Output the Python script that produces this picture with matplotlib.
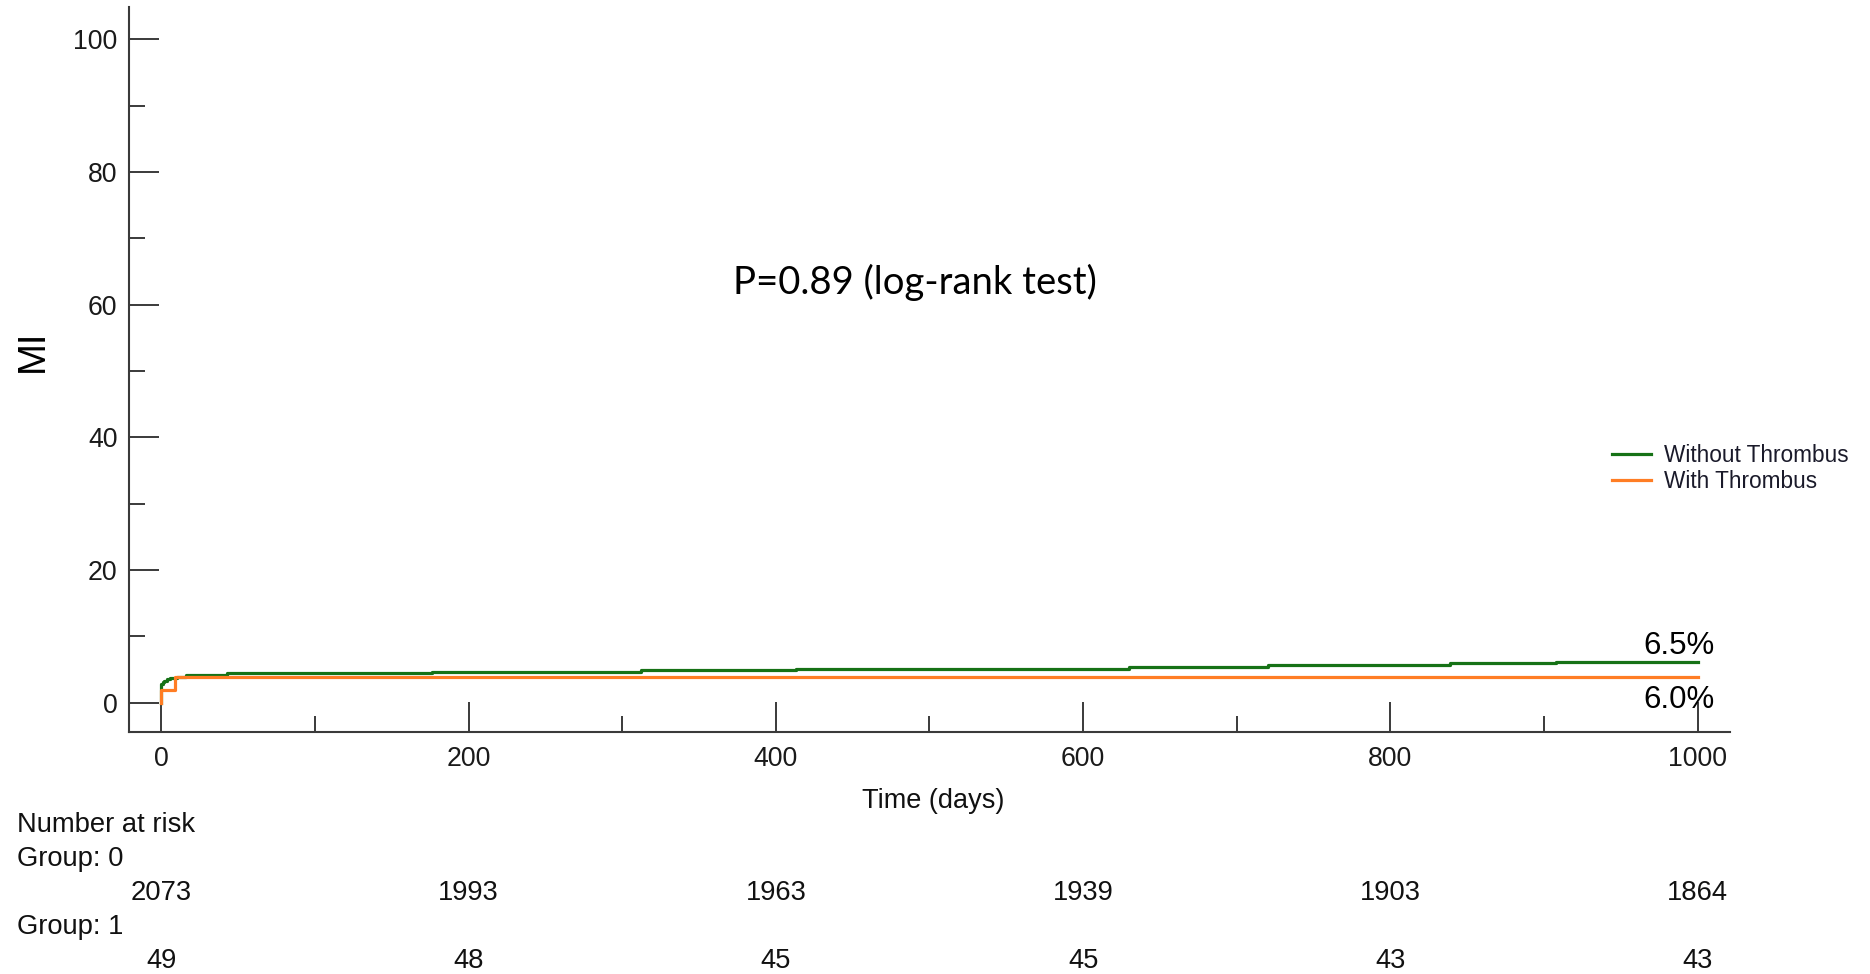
import matplotlib
matplotlib.use("Agg")
import matplotlib.pyplot as plt
from matplotlib.transforms import blended_transform_factory

# ---------------- data ----------------
green_label = "Without Thrombus"
orange_label = "With Thrombus"
green_t = [0, 0, 1, 2, 4, 6, 10, 16, 43, 176, 312, 413, 630, 720, 839, 908, 1000]
green_y = [0, 2.8, 3.1, 3.35, 3.6, 3.8, 3.95, 4.25, 4.42, 4.62, 4.95, 5.1, 5.45, 5.7, 5.95, 6.2, 6.2]
orange_t = [0, 0, 9, 1000]
orange_y = [0, 2.0, 3.9, 3.9]

x_major = [0, 200, 400, 600, 800, 1000]
x_minor = [100, 300, 500, 700, 900]
y_major = [0, 20, 40, 60, 80, 100]
y_minor = [10, 30, 50, 70, 90]

risk_times = [0, 200, 400, 600, 800, 1000]
risk_group0 = [2073, 1993, 1963, 1939, 1903, 1864]
risk_group1 = [49, 48, 45, 45, 43, 43]

end_label_green = "6.5%"
end_label_orange = "6.0%"
p_text = "P=0.89 (log-rank test)"

# ---------------- figure ----------------
W, H = 1870, 974
fig = plt.figure(figsize=(W / 100, H / 100), dpi=100)
plt.rcParams['font.family'] = ['Liberation Sans', 'DejaVu Sans']

def fx(px):
    return px / W

def fy(py):
    return 1 - py / H

left, right, top, bottom = 129.3, 1730, 7.3, 732
ax = fig.add_axes([fx(left), fy(bottom), (right - left) / W, (bottom - top) / H])
ax.set_xlim(-20.8, 1021)
ax.set_ylim(-4.4, 104.8)

axis_col = '#3a3a3a'
for s in ['top', 'right']:
    ax.spines[s].set_visible(False)
for s in ['left', 'bottom']:
    ax.spines[s].set_linewidth(1.5)
    ax.spines[s].set_color(axis_col)

green = '#167216'
orange = '#ff7d24'
ax.step(green_t, green_y, where='post', color=green, lw=2.3, label=green_label)
ax.step(orange_t, orange_y, where='post', color=orange, lw=2.3, label=orange_label)

ax.set_xticks(x_major)
ax.set_xticks(x_minor, minor=True)
ax.set_yticks(y_major)
ax.set_yticks(y_minor, minor=True)
ax.tick_params(which='both', direction='in', width=1.4, color=axis_col,
               labelcolor='#1a1a1a', labelsize=19.2)
ax.tick_params(which='major', length=21.6, pad=8.5)
ax.tick_params(axis='x', which='major', pad=10)
ax.tick_params(which='minor', length=11.5)

txtc = '#111111'
# axis labels
fig.text(fx(933), fy(808), "Time (days)", ha='center', va='baseline', fontsize=19.5, color=txtc)
fig.text(fx(33), fy(351), "MI", ha='center', va='center', rotation=90, fontsize=27.5, color='black')

# p value text
fig.text(fx(915), fy(282.5), p_text, ha='center', va='center', fontsize=27.5,
         color='black', family=['Lato', 'DejaVu Sans'])

# end labels
fig.text(fx(1715), fy(645.5), end_label_green, ha='right', va='center', fontsize=22.5, color='black')
fig.text(fx(1715), fy(700), end_label_orange, ha='right', va='center', fontsize=22.5, color='black')

# legend
leg = ax.legend(loc='center left', bbox_to_anchor=(fx(1611.7), fy(468.5)),
                bbox_transform=fig.transFigure, frameon=False, fontsize=16.3,
                handlelength=1.75, handletextpad=0.58, labelspacing=0.13,
                borderpad=0, borderaxespad=0)
for t in leg.get_texts():
    t.set_color('#1a1a2a')

# number at risk table
tr = blended_transform_factory(ax.transData, fig.transFigure)
fig.text(fx(17), fy(832), "Number at risk", ha='left', va='baseline', fontsize=19.7, color=txtc)
fig.text(fx(17), fy(866), "Group: 0", ha='left', va='baseline', fontsize=19.7, color=txtc)
fig.text(fx(17), fy(934), "Group: 1", ha='left', va='baseline', fontsize=19.7, color=txtc)
for t, n in zip(risk_times, risk_group0):
    ax.text(t, fy(900), str(n), transform=tr, ha='center', va='baseline',
            fontsize=19.7, color=txtc, clip_on=False)
for t, n in zip(risk_times, risk_group1):
    ax.text(t, fy(968), str(n), transform=tr, ha='center', va='baseline',
            fontsize=19.7, color=txtc, clip_on=False)

fig.savefig("out.png", dpi=100)
